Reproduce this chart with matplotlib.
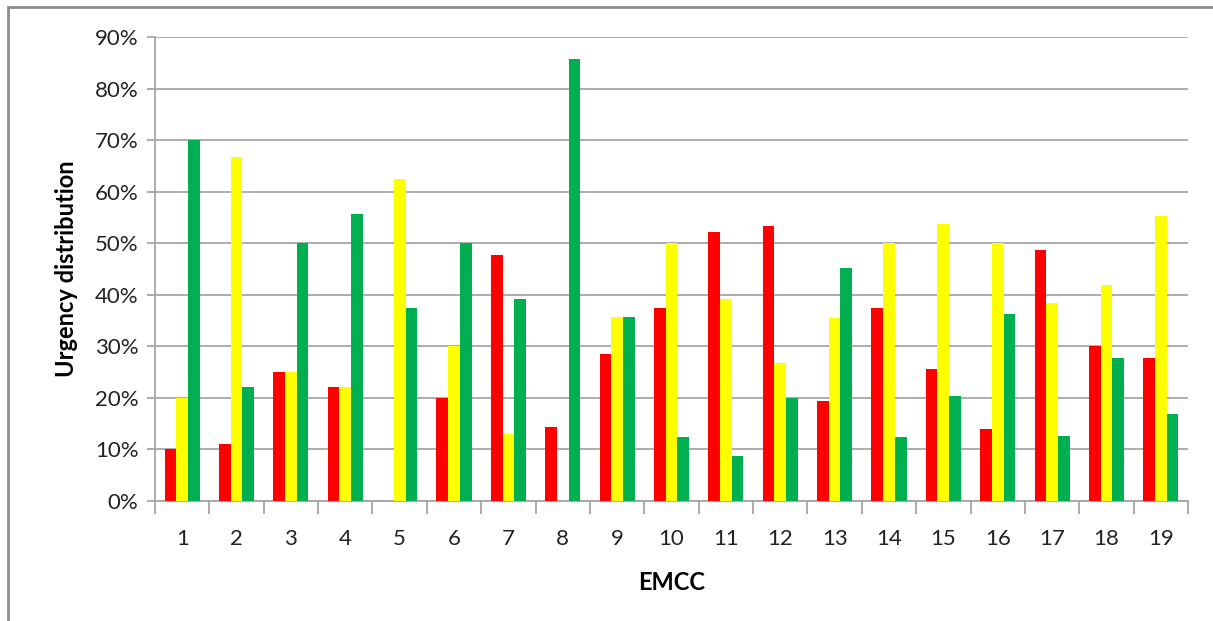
import numpy as np
import matplotlib.pyplot as plt
from matplotlib.patches import Rectangle
from matplotlib.ticker import FuncFormatter, MultipleLocator

# urgency shares per EMCC (percent)
emcc = [str(i) for i in range(1, 20)]
red = [10.0, 11.1, 25.0, 22.2, 0.0, 20.0, 47.7, 14.3, 28.6, 37.5,
       52.2, 53.3, 19.4, 37.5, 25.6, 13.9, 48.7, 30.0, 27.7]
yellow = [20.0, 66.7, 25.0, 22.2, 62.5, 30.0, 13.0, 0.0, 35.7, 50.0,
          39.1, 26.7, 35.5, 50.0, 53.8, 50.0, 38.4, 41.9, 55.2]
green = [70.0, 22.2, 50.0, 55.6, 37.5, 50.0, 39.2, 85.7, 35.7, 12.5,
         8.7, 20.0, 45.2, 12.5, 20.3, 36.2, 12.6, 27.8, 16.8]

plt.rcParams['font.family'] = ['Lato', 'DejaVu Sans']

fig = plt.figure(figsize=(12.13, 6.21), dpi=100)
ax = fig.add_axes([155 / 1213, 1 - 501 / 621, (1188 - 155) / 1213, (501 - 37) / 621])

# outer chart border
fig.patches.append(Rectangle((8 / 1213, -0.01), 1.02, 1 - 7 / 621 + 0.01,
                             transform=fig.transFigure, fill=False,
                             edgecolor='#8c8c8c', linewidth=2))

x = np.arange(len(emcc))
w = 0.215
gc = '#a6a6a6'
ax.bar(x - w, red, w, color='#ff0000', zorder=3)
ax.bar(x, yellow, w, color='#ffff00', zorder=3)
ax.bar(x + w, green, w, color='#00b050', zorder=3)

ax.set_xlim(-0.5, len(emcc) - 0.5)
ax.set_ylim(0, 90)
ax.yaxis.set_major_locator(MultipleLocator(10))
ax.yaxis.set_major_formatter(FuncFormatter(lambda v, p: f'{v:.0f}%'))
ax.grid(axis='y', color=gc, linewidth=1.3, zorder=0)

ax.set_xticks(x)
ax.set_xticklabels(emcc)
ax.set_xticks(np.arange(-0.5, len(emcc)), minor=True)
ax.tick_params(axis='x', which='major', length=0, pad=20, labelsize=16, colors='#222222')
ax.tick_params(axis='x', which='minor', length=9, color=gc, width=1.3)
ax.tick_params(axis='y', length=6, labelsize=16, pad=6, colors='#222222')
ax.tick_params(axis='y', color=gc, width=1.3)

for s in ['top', 'right']:
    ax.spines[s].set_visible(False)
for s in ['left', 'bottom']:
    ax.spines[s].set_color(gc)
    ax.spines[s].set_linewidth(1.3)

ax.set_ylabel('Urgency distribution', fontsize=17, fontweight='bold', labelpad=12)
ax.set_xlabel('EMCC', fontsize=17, fontweight='bold', labelpad=16)

fig.savefig('out.png', dpi=100)
